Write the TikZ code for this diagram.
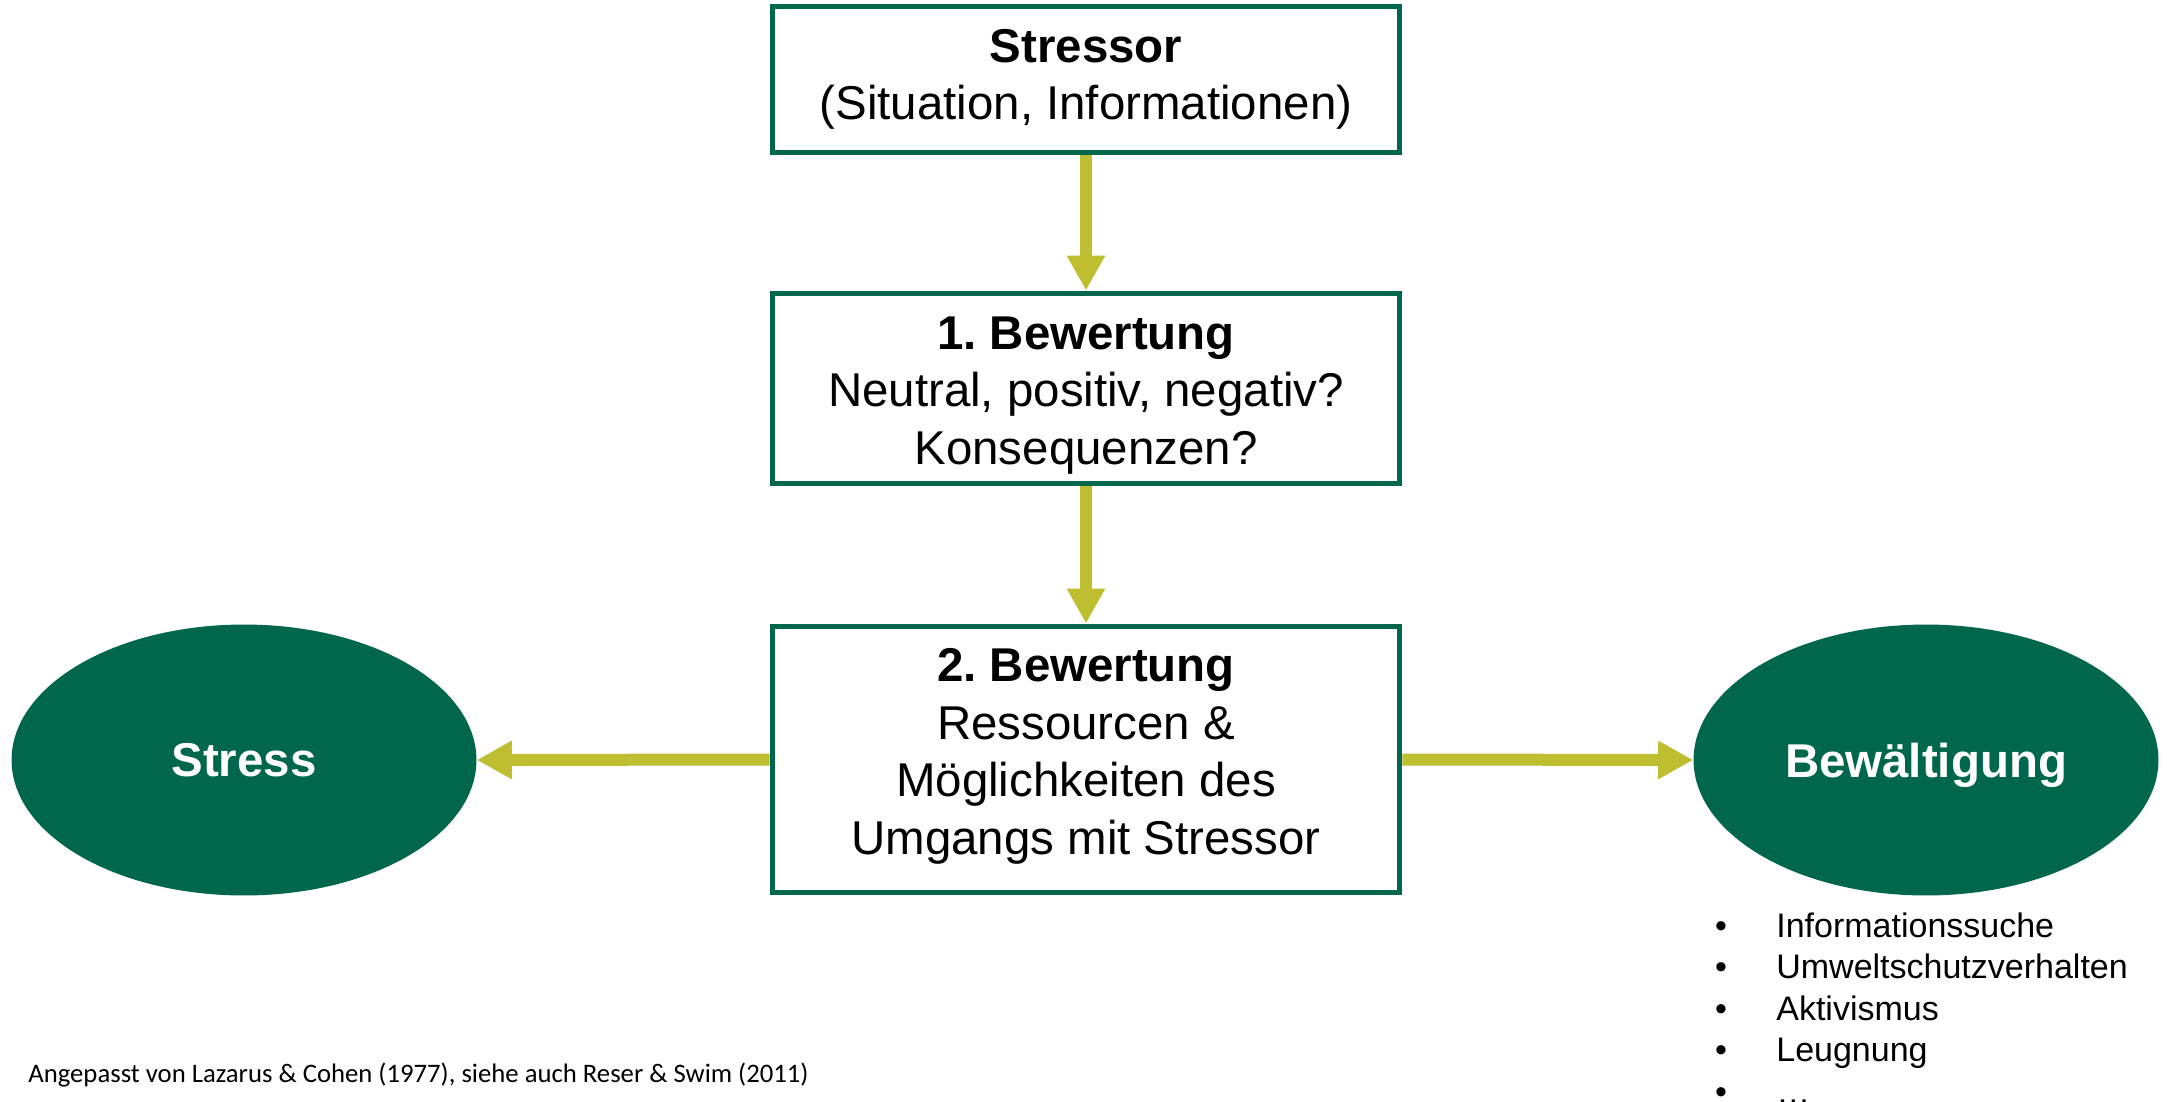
\documentclass[tikz,border=0pt]{standalone}
\usepackage{fontspec}
\setmainfont{Liberation Sans}
\newfontfamily\citefont{Carlito}
\usetikzlibrary{arrows.meta,shapes.geometric}
\definecolor{dgreen}{RGB}{0,103,76}
\definecolor{olive}{RGB}{191,189,48}
\frenchspacing
\tikzset{
  box/.style={draw=dgreen, line width=0.1cm, fill=white, minimum width=12.56cm, inner sep=0pt},
  boxtxt/.style={inner sep=0pt, align=center, font=\fontsize{27}{32.7}\selectfont},
  oval/.style={ellipse, fill=dgreen, minimum width=9.3cm, minimum height=5.42cm, inner sep=0pt,
    text depth=0pt, text=white, font=\fontsize{27}{32.7}\selectfont\bfseries},
  flow/.style={draw=olive, line width=0.24cm, -{Triangle[length=0.7cm,width=0.72cm]}},
  listtxt/.style={inner sep=0pt, font=\fontsize{19.35}{23.6}\selectfont},
}
\begin{document}
\begin{tikzpicture}[x=0.02cm,y=-0.02cm]
\useasboundingbox (0,0) rectangle (2167,1102);
\node[box, minimum height=2.94cm] (stressor) at (1086,79.5) {};
\node[boxtxt] (stressortxt) at (stressor.center)
  {\textbf{Stressor}\\(Situation, Informationen)};
\node[box, minimum height=3.82cm] (bew1) at (1086,388.5) {};
\node[boxtxt] (bew1txt) at ([yshift=-0.14cm]bew1.center)
  {\textbf{1. Bewertung}\\Neutral, positiv, negativ?\\Konsequenzen?};
\node[box, minimum height=5.34cm] (bew2) at (1086,759.5) {};
\node[boxtxt] (bew2txt) at ([yshift=0.06cm]bew2.center)
  {\textbf{2. Bewertung}\\Ressourcen \&\\Möglichkeiten des\\Umgangs mit Stressor};
\node[oval] (stress) at (244,760) {Stress};
\node[oval] (bewaelt) at (1926,760) {Bewältigung};
\draw[flow] (stressor.south) -- (bew1.north);
\draw[flow] (bew1.south) -- (bew2.north);
\draw[flow] (bew2.west) -- (stress.east);
\draw[flow] (bew2.east) -- (bewaelt.west);
\foreach \t [count=\i] in {Informationssuche,Umweltschutzverhalten,Aktivismus,Leugnung,…} {
  \node[listtxt, anchor=base west] (item\i) at (1776,{937+41.5*(\i-1)}) {\t};
  \node[listtxt, anchor=base] (dot\i) at (1721,{937+41.5*(\i-1)}) {•};
}
\node[anchor=west, inner sep=0pt, font=\citefont\fontsize{15.2}{18}\selectfont] (cite) at (28,1075)
  {Angepasst von Lazarus \& Cohen (1977), siehe auch Reser \& Swim (2011)};
\end{tikzpicture}
\end{document}
